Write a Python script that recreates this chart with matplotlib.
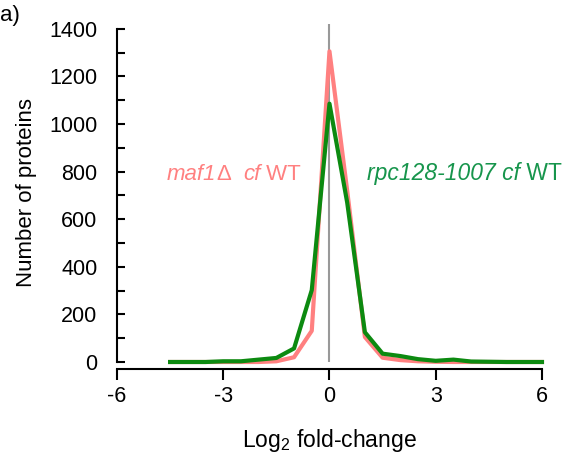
import matplotlib
matplotlib.use("Agg")
import matplotlib.pyplot as plt
from matplotlib.ticker import MultipleLocator

plt.rcParams['font.family'] = ['Liberation Sans', 'DejaVu Sans']
plt.rcParams['mathtext.fontset'] = 'custom'
plt.rcParams['mathtext.rm'] = 'Liberation Sans'
plt.rcParams['mathtext.it'] = 'Liberation Sans:italic'

# bin centres (log2 fold-change) and protein counts per bin
bins = [-4.5, -4.0, -3.5, -3.0, -2.5, -2.0, -1.5, -1.0, -0.5, 0.0, 0.5,
        1.0, 1.5, 2.0, 2.5, 3.0, 3.5, 4.0, 4.5, 5.0, 5.5, 6.0]
maf1 = [0, 0, 0, 0, 0, 0, 3, 20, 131, 1305, 720,
        105, 18, 8, 3, 1, 0, 0, 0, 0, 0, 0]
rpc128 = [0, 0, 0, 3, 3, 10, 17, 57, 302, 1085, 670,
          125, 35, 25, 12, 5, 10, 2, 1, 0, 0, 0]

pink = '#ff8080'
green = '#0c8a10'
green_txt = '#17954c'


def label_parts(x, y, parts, color, size):
    # chain text pieces (text, italic?) one after the other on a baseline
    prev = ax.text(x, y, parts[0][0], color=color, fontsize=size,
                   style='italic' if parts[0][1] else 'normal',
                   ha='left', va='baseline')
    for txt, it in parts[1:]:
        prev = ax.annotate(txt, xy=(1, 0), xycoords=prev, color=color,
                           fontsize=size, ha='left', va='bottom',
                           style='italic' if it else 'normal')
    return prev


fig = plt.figure(figsize=(5.72, 4.55), dpi=100)
ax = fig.add_axes([0.2045, 0.2044, 0.743, 0.743])

ax.axvline(0, color='#999999', lw=1.5, zorder=1)
ax.plot(bins, maf1, color=pink, lw=3, clip_on=False, zorder=2)
ax.plot(bins, rpc128, color=green, lw=3, clip_on=False, zorder=3)

ax.set_xlim(-6, 6)
ax.set_ylim(0, 1420)

for s in ['top', 'right']:
    ax.spines[s].set_visible(False)
ax.spines['left'].set_bounds(0, 1400)
ax.spines['bottom'].set_position(('outward', 5))
ax.spines['left'].set_linewidth(1.5)
ax.spines['bottom'].set_linewidth(1.5)

ax.set_xticks([-6, -3, 0, 3, 6])
ax.set_xticklabels(['-6', '-3', '0', '3', '6'])
ax.set_yticks(range(0, 1401, 200))
ax.yaxis.set_minor_locator(MultipleLocator(100))
ax.tick_params(axis='y', which='both', direction='in', length=6, width=1.5,
               pad=14, labelsize=15.5)
ax.tick_params(axis='x', direction='out', length=8, width=1.5, pad=4,
               labelsize=15.5)

ax.set_ylabel('Number of proteins', fontsize=16, labelpad=9)
ax.set_xlabel(r'Log$_{\mathrm{2}}$ fold-change', fontsize=16.5, labelpad=15)

label_parts(-4.6, 765, [('maf1', True), ('\u0394', False), ('  ', False),
                         ('cf', True), (' WT', False)], pink, 16)
label_parts(1.07, 765, [('rpc128-1007 cf', True), (' WT', False)],
            green_txt, 16.5)

fig.text(0.0, 0.99, 'a)', fontsize=16, ha='left', va='top')

fig.savefig('out.png', dpi=100)
